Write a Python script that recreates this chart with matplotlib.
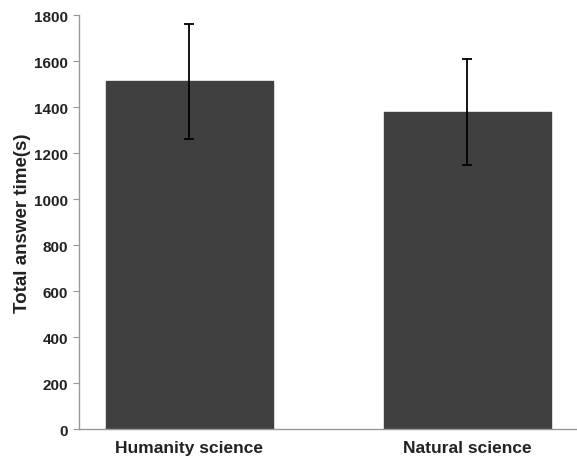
import matplotlib
matplotlib.use("Agg")
import matplotlib.pyplot as plt

categories = ["Humanity science", "Natural science"]
means = [1513, 1378]
errors = [250, 230]
yticks = [0, 200, 400, 600, 800, 1000, 1200, 1400, 1600, 1800]

plt.rcParams['font.family'] = ['Liberation Sans', 'DejaVu Sans']

fig = plt.figure(figsize=(5.77, 4.60), dpi=100)
ax = fig.add_axes([0.137, 0.065, 0.863, 0.900])

x = list(range(len(categories)))
ax.bar(x, means, width=0.6, color='#404040', edgecolor='#404040', zorder=2)
ax.errorbar(x, means, yerr=errors, fmt='none', ecolor='black', elinewidth=1.3,
            capsize=3.5, capthick=1.3, zorder=3)

ax.set_xlim(-0.397, 1.394)
ax.set_ylim(0, 1800)
ax.set_yticks(yticks)
ax.set_yticklabels([str(t) for t in yticks], fontsize=11, fontweight='bold', color='#222222')
ax.set_xticks(x)
ax.set_xticklabels(categories, fontsize=12.5, fontweight='bold', color='#222222')
ax.tick_params(axis='x', length=0, pad=8)
ax.tick_params(axis='y', length=4, color='#999999', pad=4)
ax.set_ylabel("Total answer time(s)", fontsize=13.5, fontweight='bold', color='#222222', labelpad=2)

for s in ['top', 'right']:
    ax.spines[s].set_visible(False)
for s in ['left', 'bottom']:
    ax.spines[s].set_color('#999999')
    ax.spines[s].set_linewidth(1)

fig.savefig("out.png", dpi=100)
